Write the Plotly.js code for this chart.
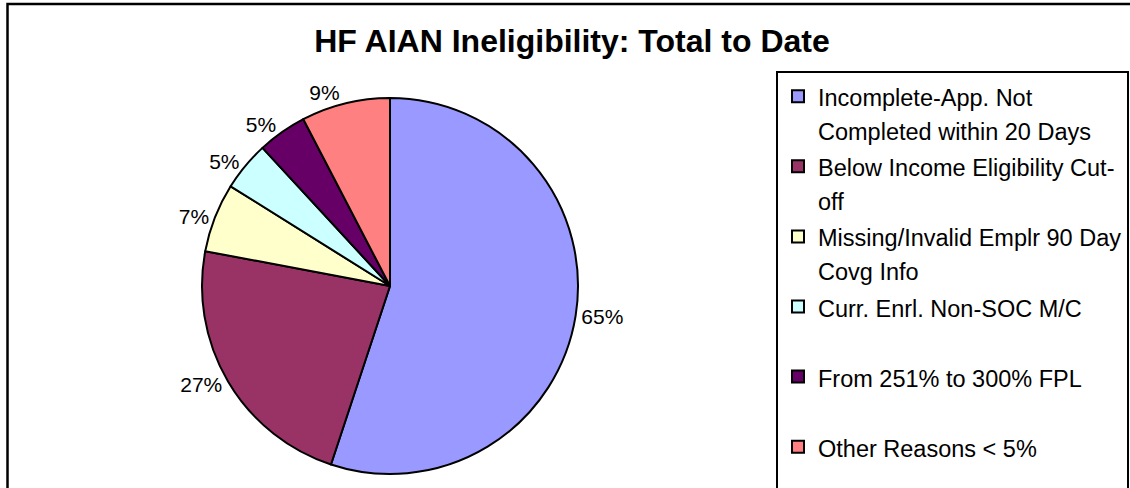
<!DOCTYPE html>
<html><head><meta charset="utf-8">
<script src="https://cdn.plot.ly/plotly-3.0.1.min.js"></script>
<style>html,body{margin:0;padding:0;background:#fff;}#chart{width:1130px;height:488px;}</style>
</head><body><div id="chart"></div>
<script>
// ---- data ----
const chartTitle = 'HF AIAN Ineligibility: Total to Date';
const categoryLines = [
  ['Incomplete-App. Not', 'Completed within 20 Days'],
  ['Below Income Eligibility Cut-', 'off'],
  ['Missing/Invalid Emplr 90 Day', 'Covg Info'],
  ['Curr. Enrl. Non-SOC M/C'],
  ['From 251% to 300% FPL'],
  ['Other Reasons < 5%']
];
const values = [65, 27, 7, 5, 5, 9];
const colors = ['#9999FF', '#993366', '#FFFFCC', '#CCFFFF', '#660066', '#FF8080'];

// ---- layout helpers ----
const W = 1130, H = 488;
const FONT = 'Liberation Sans, Arial, sans-serif';
const esc = s => s.replace(/&/g, '&amp;').replace(/</g, '&lt;').replace(/>/g, '&gt;');
const legendGlyph = 23.5;
const labels = categoryLines.map(lines => {
  const parts = lines.map(l => `<span style="font-size:${legendGlyph}px">${esc(l)}</span>`);
  while (parts.length < 2) parts.push('\u00a0');
  return parts.join('<br>');
});

const trace = {
  type: 'pie',
  labels: labels,
  values: values,
  sort: false,
  direction: 'clockwise',
  rotation: 0,
  marker: { colors: colors, line: { color: '#000', width: 2 } },
  texttemplate: '%{value}%',
  textposition: 'outside',
  outsidetextfont: { family: FONT, size: 21, color: '#000' },
  domain: { x: [202 / W, 578 / W], y: [1 - 474 / H, 1 - 98 / H] },
  hoverinfo: 'label+value',
  showlegend: true
};

const layout = {
  width: W, height: H,
  margin: { l: 0, r: 0, t: 0, b: 0, autoexpand: false },
  paper_bgcolor: '#fff',
  font: { family: FONT, color: '#000' },
  title: {
    text: '<b>' + chartTitle + '</b>',
    font: { family: FONT, size: 32, color: '#000' },
    x: 572 / W, xref: 'container', xanchor: 'center',
    y: 1 - 40.5 / H, yref: 'container', yanchor: 'middle'
  },
  legend: {
    x: 776 / W, xanchor: 'left',
    y: 1 - 71 / H, yanchor: 'top',
    bgcolor: '#fff', bordercolor: '#000', borderwidth: 2,
    font: { family: FONT, size: 25.8, color: '#000' },
    valign: 'top', traceorder: 'normal'
  },
  shapes: [{
    type: 'rect', xref: 'paper', yref: 'paper',
    x0: 7.5 / W, x1: 1.05, y0: -0.05, y1: 1 - 4 / H,
    line: { color: '#000', width: 2.5 }, fillcolor: 'rgba(0,0,0,0)'
  }]
};

Plotly.newPlot('chart', [trace], layout, { displayModeBar: false, staticPlot: true });
</script>
</body></html>
